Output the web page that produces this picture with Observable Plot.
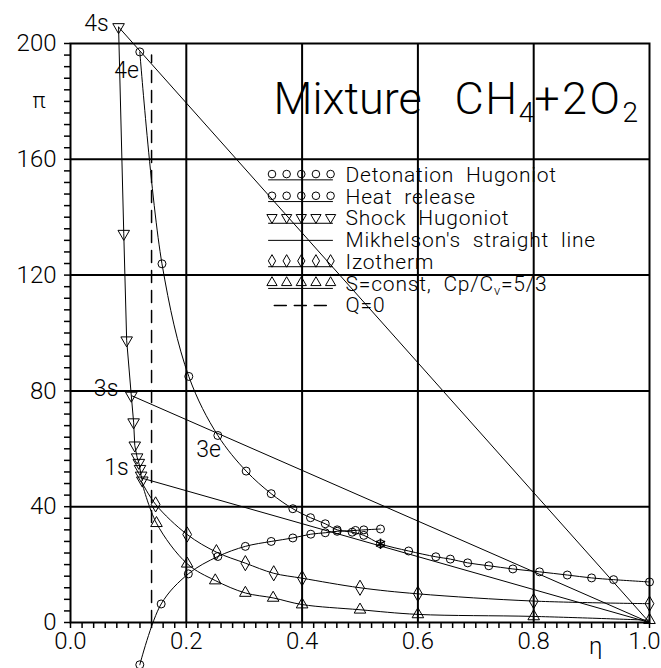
<!DOCTYPE html>
<html><head><meta charset="utf-8">
<script src="https://cdn.jsdelivr.net/npm/d3@7"></script>
<script src="https://cdn.jsdelivr.net/npm/@observablehq/plot@0.6"></script>
<style>
body{margin:0;background:#fff;}
svg text{font-family:Roboto,"DejaVu Sans",sans-serif;font-weight:300;}
</style></head><body><div id="chart"></div>
<script>
// ---- data ----
const detEta = [0.1197,0.158,0.2043,0.2545,0.3034,0.3466,0.384,0.4145,0.44,0.4606,0.4865,0.5066,0.5354,0.584,0.631,0.656,0.686,0.7225,0.764,0.81,0.858,0.90,0.938,1.0];
const detPi  = [197.1,123.9,85.0,64.6,52.3,44.5,39.3,36.2,34.1,32.0,31.2,30.1,27.2,24.7,22.7,21.9,20.6,19.6,18.5,17.5,16.4,15.4,14.8,14.0];
const heatEta = [0.1197,0.1566,0.2035,0.2545,0.302,0.3466,0.384,0.415,0.44,0.4606,0.4922,0.5066,0.5354];
const heatPi  = [-14.6,6.4,16.8,22.8,26.3,28.0,29.2,30.5,31.0,31.5,31.8,32.0,32.3];
const shockEta = [0.083,0.092,0.097,0.105,0.109,0.111,0.115,0.118,0.120,0.122,0.124];
const shockPi  = [205.7,134.3,97.5,78.4,69.2,61.2,57.1,55.2,53.1,50.8,49.1];
const izoEta = [0.123,0.147,0.2015,0.252,0.302,0.351,0.400,0.500,0.600,0.800,1.000];
const izoPi  = [48.5,40.8,30.4,24.3,20.5,17.0,15.3,12.0,9.9,7.4,6.5];
const adiEta = [0.123,0.1485,0.2015,0.250,0.302,0.350,0.400,0.500,0.600,0.800,1.000];
const adiPi  = [48.5,34.3,20.3,14.5,10.2,8.5,6.2,4.4,2.8,2.1,0.8];
const stateNames = ["4s","4e","3s","3e","1s"];
const stateEta   = [0.083,0.1197,0.105,0.2545,0.121];
const statePi    = [205.7,197.1,78.4,64.6,50.0];
const mikhelsonFrom = ["4s","3s","1s"];
const mikhelsonEnd = {eta:1.0, pi:0};
const cjEta = [0.5354], cjPi = [27.2];
const qEta = 0.14, qPi = [0,196];
const xMajor = [0,0.2,0.4,0.6,0.8,1.0];
const yMajor = [0,40,80,120,160,200];
const xMinorStep = 0.02, yMinorStep = 4;
const legendNames = ["Detonation Hugoniot","Heat release","Shock Hugoniot","Mikhelson's straight line","Izotherm","S=const, Cp/Cv=5/3","Q=0"];
const titleText = "Mixture CH4+2O2";

// ---- build ----
const zip = (xs, ys) => xs.map((x, i) => ({x, y: ys[i]}));
const det = zip(detEta, detPi), heat = zip(heatEta, heatPi), shock = zip(shockEta, shockPi);
const izo = zip(izoEta, izoPi), adi = zip(adiEta, adiPi);
const states = stateNames.map((n, i) => ({name: n, x: stateEta[i], y: statePi[i]}));
const mik = mikhelsonFrom.map(n => { const s = states.find(d => d.name === n); return {x1: s.x, y1: s.y, x2: mikhelsonEnd.eta, y2: mikhelsonEnd.pi}; });
const xMinor = d3.range(0, 1 + 1e-9, xMinorStep);
const yMinor = d3.range(0, 200 + 1e-9, yMinorStep);

const K = {stroke: "black", strokeWidth: 1};
const sym = {
  circle: {symbol: "circle", r: 4},
  down: {symbol: "triangle", rotate: 180, r: 4.3},
  diamond: {symbol: "diamond", r: 4.6},
  up: {symbol: "triangle", r: 4.3}
};
const dots = (data, s) => Plot.dot(data, {x: "x", y: "y", ...s, stroke: "black", fill: "none", strokeWidth: 1});

// legend layout (data units)
const legTop = 154.5, legStep = 7.5, legTextX = 0.475, legSymX0 = 0.348, legSymDX = 0.0253, legLine = [0.342, 0.4525];
const legStyles = [sym.circle, sym.circle, sym.down, null, sym.diamond, sym.up, "dash"];
const legendMarks = [];
legendNames.forEach((name, i) => {
  const yy = legTop - i * legStep;
  const st = legStyles[i];
  if (st === null) {
    legendMarks.push(Plot.line([{x: legLine[0], y: yy}, {x: legLine[1], y: yy}], {x: "x", y: "y", ...K}));
  } else if (st === "dash") {
    legendMarks.push(Plot.line([{x: legLine[0] + 0.01, y: yy}, {x: legLine[1], y: yy}], {x: "x", y: "y", ...K, strokeWidth: 1.5, strokeDasharray: "12,8"}));
  } else {
    legendMarks.push(Plot.line([{x: legLine[0], y: yy - 1.6}, {x: legLine[1], y: yy - 1.6}], {x: "x", y: "y", ...K}));
    legendMarks.push(dots(d3.range(5).map(k => ({x: legSymX0 + k * legSymDX, y: yy + 0.4})), {...st, r: 3.8}));
  }
});
legendMarks.push(Plot.text(legendNames.map((n, i) => ({n, y: legTop - i * legStep})), {
  x: () => legTextX, y: "y", text: "n", textAnchor: "start", fontSize: 21, fill: "black"
}));

const labelOffsets = {"4s": [-10, -3], "4e": [-1, 19], "3s": [-13, -7], "3e": [3, 14], "1s": [-12, -10]};

const chart = Plot.plot({
  width: 661, height: 668,
  marginLeft: 70, marginRight: 12, marginTop: 43, marginBottom: 46,
  x: {domain: [0, 1]}, y: {domain: [0, 200]},
  style: {background: "white", color: "black", fontFamily: "Roboto"},
  marks: [
    Plot.gridX(xMajor.slice(1, -1), {stroke: "black", strokeOpacity: 1, strokeWidth: 2}),
    Plot.gridY(yMajor.slice(1, -1), {stroke: "black", strokeOpacity: 1, strokeWidth: 2}),
    Plot.frame({stroke: "black", strokeWidth: 2}),
    Plot.axisX(xMinor, {tickSize: 6, tickFormat: () => "", strokeWidth: 1.5, label: null}),
    Plot.axisX(xMajor.slice(0, -1), {tickSize: 0, tickPadding: 9, tickFormat: d => d.toFixed(1), fontSize: 24, label: null}),
    Plot.axisX(xMajor.slice(-1), {tickSize: 0, tickPadding: 9, tickFormat: d => d.toFixed(1), fontSize: 24, label: null, dx: -5}),
    Plot.axisY(yMinor, {tickSize: 6, tickFormat: () => "", strokeWidth: 1.5, label: null}),
    Plot.axisY(yMajor, {tickSize: 0, tickPadding: 14, tickFormat: d => String(d), fontSize: 24, label: null}),
    // Q=0
    Plot.line(qPi.map(p => ({x: qEta, y: p})), {x: "x", y: "y", ...K, strokeWidth: 1.5, strokeDasharray: "12,8"}),
    // Mikhelson lines
    Plot.link(mik, {x1: "x1", y1: "y1", x2: "x2", y2: "y2", ...K}),
    // curves
    Plot.line(shock, {x: "x", y: "y", ...K}),
    dots(shock, sym.down),
    Plot.line(det, {x: "x", y: "y", ...K, curve: "catmull-rom"}),
    dots(det, sym.circle),
    Plot.line(heat, {x: "x", y: "y", ...K, curve: "catmull-rom"}),
    dots(heat, sym.circle),
    Plot.line(izo, {x: "x", y: "y", ...K, curve: "catmull-rom"}),
    dots(izo.slice(1), sym.diamond),
    Plot.line(adi, {x: "x", y: "y", ...K, curve: "catmull-rom"}),
    dots(adi.slice(1), sym.up),
    Plot.dot(zip(cjEta, cjPi), {x: "x", y: "y", symbol: "asterisk", r: 5, stroke: "black", strokeWidth: 1.5}),
    // state labels
    ...states.map(s => Plot.text([s], {x: "x", y: "y", text: "name", textAnchor: "end",
      dx: labelOffsets[s.name][0], dy: labelOffsets[s.name][1], fontSize: 23, fill: "black"})),
    // axis names
    Plot.text([180], {y: d => d, text: () => "π", frameAnchor: "left", dx: -38, fontSize: 22, fill: "black"}),
    Plot.text([0], {text: () => "η", frameAnchor: "bottom", x: () => 0.907, dy: 31, fontSize: 24, fill: "black"}),
    // title
    Plot.text([titleText], {text: d => d, frameAnchor: "top-left", dx: 203, dy: 70, lineAnchor: "bottom", textAnchor: "start", fontSize: 45, fill: "black"}),
    ...legendMarks
  ]
});
document.getElementById("chart").appendChild(chart);

// subscripts as real tspans
const svg = d3.select(chart);
svg.selectAll("text").filter(function () { return this.textContent === titleText; }).each(function () {
  const t = d3.select(this); t.text(null);
  t.append("tspan").text("Mixture\u00a0\u00a0\u00a0");
  t.append("tspan").attr("letter-spacing", "1.5px").text("CH");
  t.append("tspan").attr("font-size", 28).attr("dy", 8).text("4");
  t.append("tspan").attr("dy", -8).attr("letter-spacing", "2.5px").text("+2O");
  t.append("tspan").attr("font-size", 28).attr("dy", 8).text("2");
});
svg.selectAll("text").filter(function () { return legendNames.includes(this.textContent); }).each(function () {
  const t = d3.select(this); const s = t.text();
  t.attr("letter-spacing", "0.8px");
  if (s.includes("Cp/Cv")) {
    t.text(null);
    t.append("tspan").text("S=const,\u00a0\u00a0Cp/C");
    t.append("tspan").attr("font-size", 13).attr("dy", 4).text("v");
    t.append("tspan").attr("dy", -4).text("=5/3");
  } else {
    t.text(s.replace(/ /g, "\u00a0\u00a0"));
  }
});
</script></body></html>
